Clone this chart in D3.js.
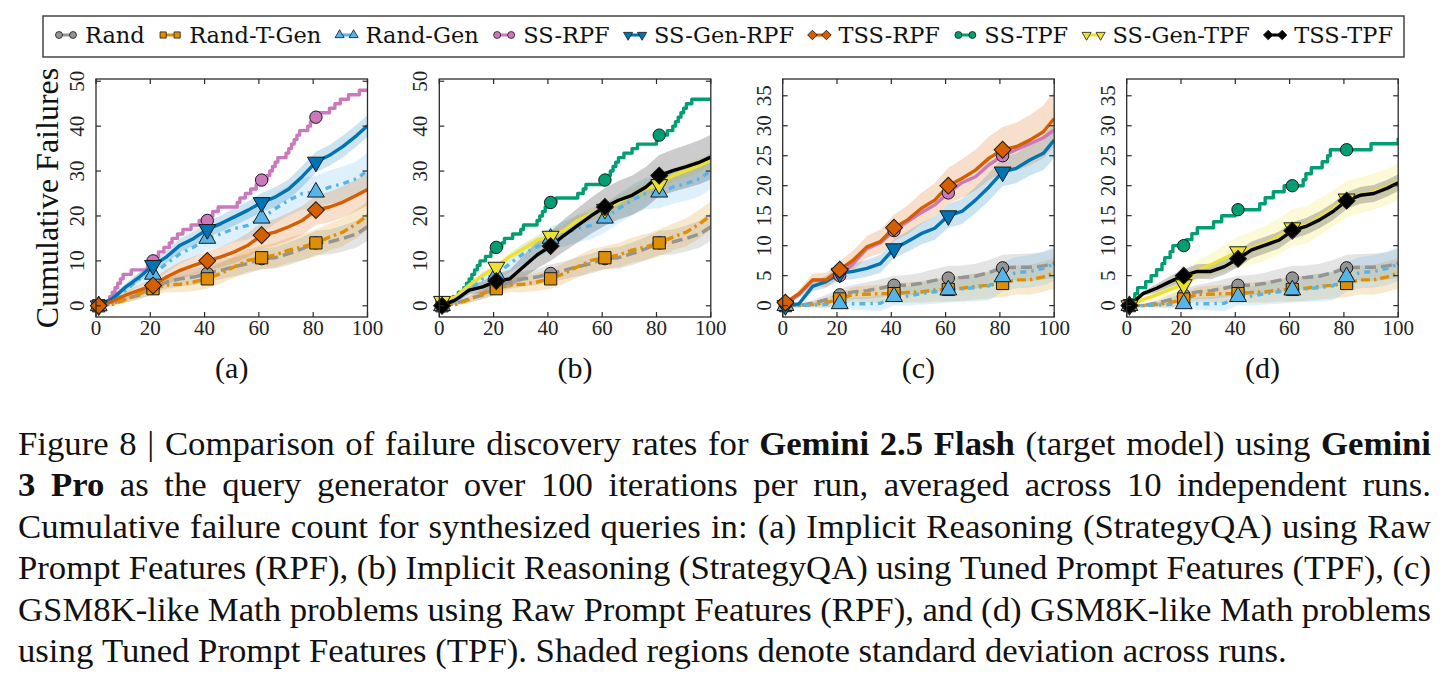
<!DOCTYPE html>
<html><head><meta charset="utf-8">
<script src="https://cdn.jsdelivr.net/npm/d3@7"></script>
<style>body{margin:0;background:#fff}</style>
</head><body>
<svg id="c" width="1450" height="680" xmlns="http://www.w3.org/2000/svg"></svg>
<script>
// ---------------- DATA ----------------
const iters = [1,6,11,16,21,26,31,36,41,46,51,56,61,66,71,76,81,86,91,96,100];
const markerIters = [1,21,41,61,81];
const xTicks = [0,20,40,60,80,100];
const yTicksAB = [0,10,20,30,40,50];
const yTicksCD = [0,5,10,15,20,25,30,35];
const panelLabels = ["(a)","(b)","(c)","(d)"];
const seriesNames = ["Rand","Rand-T-Gen","Rand-Gen","SS-RPF","SS-Gen-RPF","TSS-RPF","SS-TPF","SS-Gen-TPF","TSS-TPF"];
const seriesColors = ["#949494","#DE8F05","#56B4E9","#CC78BC","#0173B2","#D55E00","#029E73","#ECE133","#000000"];

// shared baselines for (a),(b)
const randAB      = [0,0.5,1.6,2.4,4.0,5.3,6.0,6.4,7.2,7.9,8.7,9.4,10.5,10.7,11.6,12.7,14.0,14.2,15.0,16.0,17.6];
const randAB_sd   = [0,0.3,0.8,1.0,1.3,1.5,1.7,1.8,2.0,2.0,2.1,2.2,2.3,2.4,2.5,2.6,2.7,2.8,2.9,3.0,3.1];
const randTGenAB    = [0,0.3,1.4,2.7,3.8,4.6,4.8,5.3,6.0,7.2,8.7,10.1,10.7,11.3,12.4,13.1,14.0,15.3,16.4,18.3,20.1];
const randTGenAB_sd = [0,0.3,0.8,1.1,1.4,1.6,1.8,2.0,2.2,2.3,2.4,2.5,2.6,2.7,2.8,2.9,3.0,3.0,3.1,3.2,3.2];
const randGenAB    = [0,1.0,3.5,6.0,7.0,9.4,11.6,13.1,15.0,16.0,17.2,17.9,19.5,21.6,23.5,25.0,25.3,26.4,27.2,28.3,30.1];
const randGenAB_sd = [0,0.5,1.0,1.5,1.8,2.0,2.2,2.4,2.6,2.8,3.0,3.1,3.2,3.3,3.4,3.5,3.6,3.7,3.8,3.9,4.0];

// (a)
const ssRpfA_x = [1,3,5,6,7,8,9,10,13,19,20,22,23,25,27,28,30,32,35,38,42,43,45,52,53,55,57,59,61,63,64,65,66,67,70,71,72,73,74,75,78,79,81,82,86,88,90,93,97,100];
const ssRpfA_y = [0,1,2,3,4,5,6,7,8,9,10,11,12,13,14,15,16,17,18,19,20,21,22,23,24,25,26,27,28,29,30,31,32,33,34,35,36,37,38,39,40,41,42,43,44,45,46,47,48,48];
const ssGenRpfA    = [0,1.6,4.2,6.4,9.0,10.9,13.5,15.0,17.0,18.3,19.8,21.3,23.0,24.2,26.0,28.8,32.0,33.5,35.5,37.9,40.1];
const ssGenRpfA_sd = [0,0.5,0.8,1.0,1.2,1.4,1.5,1.6,1.7,1.8,1.9,2.0,2.1,2.2,2.2,2.3,2.3,2.3,2.4,2.4,2.4];
const tssRpfA    = [0,1.0,2.4,3.5,4.5,6.4,7.9,9.0,10.0,10.9,12.0,13.5,15.7,16.4,17.6,19.0,21.3,22.0,23.1,24.6,25.9];
const tssRpfA_sd = [0,0.5,1.0,1.2,1.5,1.7,1.9,2.0,2.1,2.3,2.5,2.7,2.9,3.0,3.1,3.2,3.3,3.4,3.5,3.5,3.6];

// (b)
const ssTpfB_x = [1,3,5,7,9,10,11,12,13,14,15,17,19,21,23,24,27,30,31,36,37,38,39,41,43,51,53,54,61,62,63,64,65,66,68,71,73,80,81,84,86,87,88,89,90,91,93,100];
const ssTpfB_y = [0,1,2,3,4,5,6,7,8,9,10,11,12,13,14,15,16,17,18,19,20,21,22,23,24,25,26,27,28,29,30,31,32,33,34,35,36,37,38,39,40,41,42,43,44,45,46,46];
const ssGenTpfB    = [1.0,2.0,4.6,6.8,8.6,11.0,12.7,14.6,15.5,16.8,19.0,20.5,21.5,23.1,24.6,26.1,27.0,29.0,30.1,31.3,32.4];
const ssGenTpfB_sd = [0,0.4,0.6,0.8,0.9,1.0,1.1,1.2,1.2,1.3,1.3,1.4,1.4,1.4,1.5,1.5,1.5,1.5,1.5,1.5,1.5];
const tssTpfB    = [0,1.3,3.5,4.2,5.5,6.0,8.7,11.3,13.3,15.7,17.9,20.1,22.0,23.5,24.6,26.4,29.0,30.1,31.0,32.0,33.1];
const tssTpfB_sd = [0,0.5,1.0,1.3,1.6,2.0,2.5,3.0,3.3,3.6,3.8,4.0,4.2,4.3,4.4,4.5,4.6,4.7,4.8,4.9,5.0];

// shared baselines for (c),(d)
const randCD      = [0,0,0.4,1.0,1.8,2.3,2.5,2.9,3.4,3.4,3.7,4.2,4.6,4.7,4.9,5.5,6.3,6.4,6.4,6.6,7.1];
const randCD_sd   = [0,0.2,0.5,0.8,1.0,1.2,1.4,1.5,1.6,1.7,1.8,1.9,2.0,2.0,2.1,2.1,2.2,2.2,2.3,2.3,2.4];
const randTGenCD    = [0,0,0.2,0.5,1.1,1.9,1.9,2.0,2.0,2.2,2.3,2.6,2.7,2.9,3.2,3.4,3.7,4.3,4.3,4.8,5.4];
const randTGenCD_sd = [0,0.2,0.5,0.8,1.0,1.2,1.4,1.5,1.6,1.7,1.8,1.9,2.0,2.1,2.2,2.2,2.3,2.4,2.5,2.5,2.6];
const randGenCD    = [0,0,0.1,0.2,0.3,0.3,0.3,0.4,1.5,1.6,2.0,2.3,2.6,2.8,3.0,3.3,4.8,5.5,5.7,6.2,7.0];
const randGenCD_sd = [0,0.2,0.4,0.6,0.8,1.0,1.1,1.3,1.5,1.6,1.8,2.0,2.1,2.2,2.3,2.4,2.5,2.6,2.7,2.8,2.9];

// (c)
const ssRpfC    = [0.3,1.8,4.2,4.3,5.0,7.0,9.5,10.5,12.5,14.0,15.5,16.8,18.8,20.5,21.5,23.5,25.0,26.0,27.0,28.0,29.3];
const ssRpfC_sd = [0,0,0,0,0,0,0,0,0,0,0,0,0,0,0,0,0,0,0,0,0];
const ssGenRpfC    = [0,0.3,3.2,4.0,5.4,5.7,6.2,7.0,9.5,10.7,12.0,12.9,15.0,15.7,17.6,19.8,22.3,22.9,24.3,25.4,27.6];
const ssGenRpfC_sd = [0,0.4,0.8,1.0,1.2,1.3,1.4,1.5,1.6,1.7,1.8,1.9,2.0,2.1,2.2,2.3,2.4,2.5,2.6,2.8,3.0];
const tssRpfC    = [0.5,2.0,4.3,4.3,6.0,7.6,9.8,10.7,13.0,14.3,16.2,17.6,20.0,21.2,22.6,24.6,26.0,26.5,27.6,29.0,31.2];
const tssRpfC_sd = [0,0.6,1.0,1.2,1.4,1.6,1.8,2.0,2.2,2.4,2.6,2.8,3.0,3.2,3.4,3.6,3.8,4.0,4.2,4.4,4.6];

// (d)
const ssTpfD_x = [1,2,3,4,7,9,11,13,14,16,17,22,24,26,32,35,40,49,51,54,58,65,66,68,72,74,75,90,100];
const ssTpfD_y = [0,1,2,3,4,5,6,7,8,9,10,11,12,13,14,15,16,17,18,19,20,21,22,23,24,25,26,27,28];
const ssGenTpfD    = [0,1.0,1.8,2.7,3.5,5.9,6.8,7.9,9.0,9.6,10.4,11.5,13.0,13.4,14.8,16.2,17.8,18.4,19.0,19.8,20.7];
const ssGenTpfD_sd = [0,0.4,0.8,1.0,1.3,1.6,1.9,2.2,2.5,2.7,2.9,3.0,3.1,3.1,3.1,3.0,3.0,3.0,3.0,3.0,3.0];
const tssTpfD    = [0,2.0,2.9,4.0,5.0,5.7,5.7,6.5,7.8,9.3,10.1,10.9,12.5,13.2,14.3,15.7,17.5,18.4,18.7,19.6,20.5];
const tssTpfD_sd = [0,0.4,0.7,0.9,1.1,1.2,1.3,1.3,1.4,1.4,1.4,1.4,1.4,1.4,1.4,1.4,1.4,1.4,1.4,1.4,1.4];

const captionLines = [
 [["Figure 8 | Comparison of failure discovery rates for",0],["Gemini 2.5 Flash",1],["(target model) using",0],["Gemini",1]],
 [["3 Pro",1],["as the query generator over 100 iterations per run, averaged across 10 independent runs.",0]],
 [["Cumulative failure count for synthesized queries in: (a) Implicit Reasoning (StrategyQA) using Raw",0]],
 [["Prompt Features (RPF), (b) Implicit Reasoning (StrategyQA) using Tuned Prompt Features (TPF), (c)",0]],
 [["GSM8K-like Math problems using Raw Prompt Features (RPF), and (d) GSM8K-like Math problems",0]],
 [["using Tuned Prompt Features (TPF). Shaded regions denote standard deviation across runs.",0]]
];

// ---------------- STYLE ----------------
const styles = {
 "Rand":       {dash:"11,5",        marker:"circle",  bandOp:0.25},
 "Rand-T-Gen": {dash:"9,4,2.5,4",   marker:"square",  bandOp:0.2},
 "Rand-Gen":   {dash:"6,5,2.5,5",   marker:"tri",     bandOp:0.2},
 "SS-RPF":     {dash:null,          marker:"circle",  bandOp:0.2},
 "SS-Gen-RPF": {dash:null,          marker:"tridown", bandOp:0.2},
 "TSS-RPF":    {dash:null,          marker:"diamond", bandOp:0.2},
 "SS-TPF":     {dash:null,          marker:"circle",  bandOp:0.2},
 "SS-Gen-TPF": {dash:null,          marker:"tridown", bandOp:0.2},
 "TSS-TPF":    {dash:null,          marker:"diamond", bandOp:0.2}
};
const colorOf = n => seriesColors[seriesNames.indexOf(n)];

const panels = [
 {label:panelLabels[0], yDomain:[-2.5,50.5], yTicks:yTicksAB, series:[
   {name:"Rand", mean:randAB, sd:randAB_sd},
   {name:"Rand-T-Gen", mean:randTGenAB, sd:randTGenAB_sd},
   {name:"Rand-Gen", mean:randGenAB, sd:randGenAB_sd},
   {name:"SS-RPF", stepX:ssRpfA_x, stepY:ssRpfA_y},
   {name:"SS-Gen-RPF", mean:ssGenRpfA, sd:ssGenRpfA_sd},
   {name:"TSS-RPF", mean:tssRpfA, sd:tssRpfA_sd}]},
 {label:panelLabels[1], yDomain:[-2.5,50.5], yTicks:yTicksAB, series:[
   {name:"Rand", mean:randAB, sd:randAB_sd},
   {name:"Rand-T-Gen", mean:randTGenAB, sd:randTGenAB_sd},
   {name:"Rand-Gen", mean:randGenAB, sd:randGenAB_sd},
   {name:"SS-TPF", stepX:ssTpfB_x, stepY:ssTpfB_y},
   {name:"SS-Gen-TPF", mean:ssGenTpfB, sd:ssGenTpfB_sd},
   {name:"TSS-TPF", mean:tssTpfB, sd:tssTpfB_sd}]},
 {label:panelLabels[2], yDomain:[-1.9,37.8], yTicks:yTicksCD, series:[
   {name:"Rand", mean:randCD, sd:randCD_sd},
   {name:"Rand-T-Gen", mean:randTGenCD, sd:randTGenCD_sd},
   {name:"Rand-Gen", mean:randGenCD, sd:randGenCD_sd},
   {name:"SS-RPF", mean:ssRpfC, sd:ssRpfC_sd},
   {name:"SS-Gen-RPF", mean:ssGenRpfC, sd:ssGenRpfC_sd},
   {name:"TSS-RPF", mean:tssRpfC, sd:tssRpfC_sd}]},
 {label:panelLabels[3], yDomain:[-1.9,37.8], yTicks:yTicksCD, series:[
   {name:"Rand", mean:randCD, sd:randCD_sd},
   {name:"Rand-T-Gen", mean:randTGenCD, sd:randTGenCD_sd},
   {name:"Rand-Gen", mean:randGenCD, sd:randGenCD_sd},
   {name:"SS-TPF", stepX:ssTpfD_x, stepY:ssTpfD_y},
   {name:"SS-Gen-TPF", mean:ssGenTpfD, sd:ssGenTpfD_sd},
   {name:"TSS-TPF", mean:tssTpfD, sd:tssTpfD_sd}]}
];

// ---------------- LAYOUT ----------------
const svg = d3.select("#c");
svg.append("rect").attr("width",1450).attr("height",680).attr("fill","#fff");
const plotTop = 79, plotBot = 317, plotW = 271.5;
const panelLeft = [96, 439.3, 782.7, 1126.7];
const tickFont = "'Liberation Serif', 'DejaVu Serif', serif";
const frameColor = "#2b2b2b";

function symbolPath(kind, size){
  if(kind==="circle") return d3.symbol(d3.symbolCircle, size)();
  if(kind==="square") return d3.symbol(d3.symbolSquare, size)();
  if(kind==="tri"||kind==="tridown") return d3.symbol(d3.symbolTriangle, size*0.95)();
  if(kind==="diamond") return d3.symbol(d3.symbolSquare, size*0.95)();
}
function symbolTransform(kind){
  if(kind==="tridown") return " rotate(180)";
  if(kind==="diamond") return " rotate(45)";
  return "";
}
function drawMarker(g, kind, cx, cy, size, fill, sw){
  g.append("path").attr("d", symbolPath(kind,size))
   .attr("transform", `translate(${cx},${cy})`+symbolTransform(kind))
   .attr("fill", fill).attr("stroke","#1a1a1a").attr("stroke-width",sw||1);
}

panels.forEach((p,pi)=>{
  const x0 = panelLeft[pi];
  const x = d3.scaleLinear().domain([0,100]).range([x0, x0+plotW]);
  const y = d3.scaleLinear().domain(p.yDomain).range([plotBot, plotTop]);
  const g = svg.append("g");
  const clipId = "clip"+pi;
  svg.append("clipPath").attr("id",clipId).append("rect")
     .attr("x",x0).attr("y",plotTop).attr("width",plotW).attr("height",plotBot-plotTop);
  const gc = g.append("g").attr("clip-path",`url(#${clipId})`);

  p.series.forEach(s=>{
    if(!s.mean) return;
    const pts = iters.map((it,i)=>({i:it, m:s.mean[i], s:s.sd[i]}));
    if(d3.max(s.sd)===0) return;
    gc.append("path").datum(pts)
      .attr("d", d3.area().x(d=>x(d.i)).y0(d=>y(d.m-d.s)).y1(d=>y(d.m+d.s)))
      .attr("fill", colorOf(s.name)).attr("fill-opacity", styles[s.name].bandOp).attr("stroke","none");
  });
  p.series.forEach(s=>{
    const st = styles[s.name];
    let pts, curve;
    if(s.stepX){ pts = s.stepX.map((v,i)=>[v, s.stepY[i]]); curve = d3.curveStepAfter; }
    else { pts = iters.map((v,i)=>[v, s.mean[i]]); curve = d3.curveLinear; }
    const path = gc.append("path").datum(pts)
      .attr("d", d3.line().x(d=>x(d[0])).y(d=>y(d[1])).curve(curve))
      .attr("fill","none").attr("stroke", colorOf(s.name)).attr("stroke-width", 3.4)
      .attr("stroke-linejoin","round");
    if(st.dash) path.attr("stroke-dasharray", st.dash);
  });
  const gm = g.append("g");
  p.series.forEach(s=>{
    const st = styles[s.name];
    markerIters.forEach(mi=>{
      let v;
      if(s.stepX){ let k=0; s.stepX.forEach((xx,i)=>{ if(xx<=mi) k=i; }); v = s.stepY[k]; }
      else { v = s.mean[iters.indexOf(mi)]; }
      const sz = st.marker==="diamond" ? 150 : (st.marker==="square"?150:(st.marker==="circle"?120:130));
      drawMarker(gm, st.marker, x(mi), y(v), sz, colorOf(s.name));
    });
  });

  g.append("rect").attr("x",x0).attr("y",plotTop).attr("width",plotW).attr("height",plotBot-plotTop)
    .attr("fill","none").attr("stroke",frameColor).attr("stroke-width",1.3);
  const tl = 5;
  xTicks.forEach(t=>{
    g.append("line").attr("x1",x(t)).attr("x2",x(t)).attr("y1",plotBot).attr("y2",plotBot-tl).attr("stroke",frameColor).attr("stroke-width",1.2);
    g.append("line").attr("x1",x(t)).attr("x2",x(t)).attr("y1",plotTop).attr("y2",plotTop+tl).attr("stroke",frameColor).attr("stroke-width",1.2);
    g.append("text").attr("x",x(t)).attr("y",335).attr("text-anchor","middle")
      .attr("font-family",tickFont).attr("font-size",21).attr("fill","#222").text(t);
  });
  p.yTicks.forEach(t=>{
    g.append("line").attr("x1",x0).attr("x2",x0+tl).attr("y1",y(t)).attr("y2",y(t)).attr("stroke",frameColor).attr("stroke-width",1.2);
    g.append("line").attr("x1",x0+plotW).attr("x2",x0+plotW-tl).attr("y1",y(t)).attr("y2",y(t)).attr("stroke",frameColor).attr("stroke-width",1.2);
    g.append("text").attr("transform",`translate(${x0-12},${y(t)}) rotate(-90)`).attr("text-anchor","middle")
      .attr("font-family",tickFont).attr("font-size",21).attr("fill","#222").text(t);
  });
  g.append("text").attr("x",x0+plotW/2).attr("y",378).attr("text-anchor","middle")
    .attr("font-family",tickFont).attr("font-size",30).attr("fill","#111").text(p.label);
  if(pi===0){
    g.append("text").attr("transform",`translate(58,${(plotTop+plotBot)/2}) rotate(-90)`).attr("text-anchor","middle")
      .attr("font-family",tickFont).attr("font-size",32).attr("fill","#111").text("Cumulative Failures");
  }
});

// ---------------- LEGEND ----------------
const lg = svg.append("g");
const legFont = "'DejaVu Serif', serif";
const legStart = 55, legEnd = 1393;
const legTexts = seriesNames.map(n=>{
  const t = lg.append("text").attr("y",43).attr("font-family",legFont)
    .attr("font-size",22.5).attr("fill","#111").text(n);
  return {t, w:t.node().getComputedTextLength()};
});
const legGap = (legEnd - legStart - d3.sum(legTexts,d=>30+d.w))/(seriesNames.length-1);
lg.insert("rect",":first-child").attr("x",43).attr("y",16).attr("width",1404-43).attr("height",41).attr("fill","#fff")
  .attr("stroke","#444").attr("stroke-width",1.5);
let cur = legStart;
seriesNames.forEach((n,i)=>{
  const st = styles[n], col = seriesColors[i];
  lg.append("line").attr("x1",cur+3).attr("x2",cur+19).attr("y1",35).attr("y2",35)
    .attr("stroke",col).attr("stroke-width",3);
  drawMarker(lg, st.marker, cur+4, 35, st.marker==="diamond"?48:38, col, 0.8);
  drawMarker(lg, st.marker, cur+18, 35, st.marker==="diamond"?48:38, col, 0.8);
  legTexts[i].t.attr("x",cur+30);
  cur = cur + 30 + legTexts[i].w + legGap;
});

// ---------------- CAPTION ----------------
const capFont = "'Liberation Serif', serif";
const meas = svg.append("text").attr("font-family",capFont).attr("x",-1000).attr("y",-1000);
function wordWidth(w,b,fs){ meas.attr("font-size",fs).attr("font-weight",b?"bold":"normal").text(w); return meas.node().getComputedTextLength(); }
function lineWords(segs){ const out=[]; segs.forEach(([t,b])=>t.split(/ +/).filter(s=>s).forEach(w=>out.push({w,b}))); return out; }
const capLeft = 18, capRight = 1431;
let fs = 30;
{
  const ws = lineWords(captionLines[5]);
  const sp = wordWidth("a a",0,fs)-wordWidth("aa",0,fs);
  const nat = d3.sum(ws,d=>wordWidth(d.w,d.b,fs)) + sp*(ws.length-1);
  let f1 = fs * 1304/nat;
  // make sure justified lines keep a minimum inter-word gap
  captionLines.slice(0,5).forEach(segs=>{
    const w2 = lineWords(segs);
    const sumW = d3.sum(w2,d=>wordWidth(d.w,d.b,fs));
    const need = sumW + 0.24*fs*(w2.length-1);
    f1 = Math.min(f1, fs*(capRight-capLeft)/need);
  });
  fs = f1;
}
const capG = svg.append("g");
captionLines.forEach((segs,li)=>{
  const ws = lineWords(segs);
  const widths = ws.map(d=>wordWidth(d.w,d.b,fs));
  const sp = wordWidth("a a",0,fs)-wordWidth("aa",0,fs);
  const gap = li<5 ? (capRight-capLeft-d3.sum(widths))/(ws.length-1) : sp;
  let xx = capLeft;
  const yy = 455 + li*41.4;
  ws.forEach((d,i)=>{
    capG.append("text").attr("x",xx).attr("y",yy).attr("font-family",capFont).attr("font-size",fs)
      .attr("font-weight",d.b?"bold":"normal").attr("fill","#111").text(d.w);
    xx += widths[i] + gap;
  });
});
meas.remove();
</script>
</body></html>
